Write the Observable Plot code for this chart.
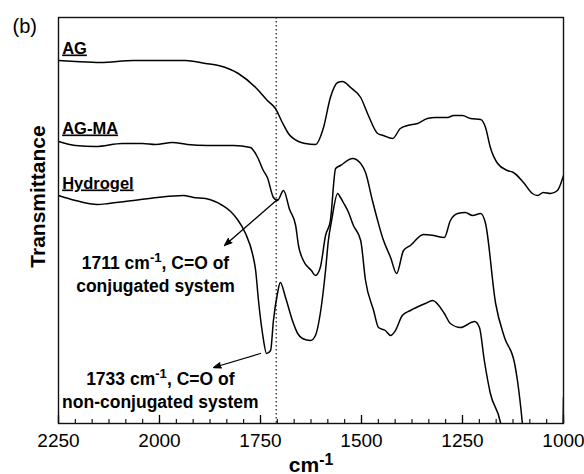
<!DOCTYPE html>
<html><head><meta charset="utf-8">
<script src="https://cdn.jsdelivr.net/npm/d3@7"></script>
<script src="https://cdn.jsdelivr.net/npm/@observablehq/plot@0.6"></script>
<style>
body{margin:0;background:#fff;}
#chart{position:relative;width:584px;height:474px;}
</style>
</head><body><div id="chart"></div>
<script>
// ---- data (wavenumber in cm-1, transmittance in arbitrary offset units) ----
const agWn = [2250, 2208, 2146, 2064, 1998, 1936, 1886, 1854, 1805, 1762, 1733, 1713, 1696, 1681, 1656, 1639, 1614, 1594, 1577, 1559, 1547, 1527, 1502, 1483, 1460, 1446, 1423, 1404, 1386, 1361, 1337, 1317, 1287, 1272, 1250, 1230, 1205, 1193, 1181, 1163, 1139, 1124, 1099, 1077, 1064, 1050, 1032, 1015, 1000];
const agT  = [363, 362, 361, 363, 363, 363, 360, 358, 350, 336, 323, 315, 301, 290, 282, 280, 279, 296, 326, 341, 342, 336, 326, 308, 290, 288, 285, 295, 298, 300, 305, 306, 306, 308, 308, 305, 304, 296, 276, 260, 253, 251, 241, 230, 228, 231, 230, 233, 248];

const agmaWn = [2250, 2208, 2158, 2092, 2042, 2010, 1968, 1931, 1881, 1817, 1775, 1757, 1743, 1733, 1718, 1708, 1693, 1678, 1663, 1656, 1644, 1624, 1614, 1602, 1589, 1577, 1564, 1552, 1522, 1502, 1490, 1473, 1460, 1448, 1428, 1413, 1396, 1379, 1347, 1322, 1295, 1280, 1262, 1243, 1225, 1205, 1193, 1168, 1146, 1121, 1114, 1102, 1080, 1008, 1000];
const agmaT  = [282, 278, 277, 280, 280, 279, 281, 279, 278, 278, 276, 266, 253, 246, 226, 223, 233, 214, 198, 178, 163, 153, 148, 156, 188, 203, 255, 258, 265, 260, 251, 223, 203, 186, 166, 150, 173, 178, 189, 188, 186, 203, 210, 211, 208, 210, 200, 120, 86, 60, 43, 1, -120, -150, 26];

const hydWn = [2250, 2208, 2153, 2126, 2064, 2005, 1941, 1916, 1886, 1844, 1824, 1807, 1787, 1770, 1762, 1755, 1745, 1735, 1725, 1718, 1708, 1701, 1688, 1671, 1658, 1646, 1626, 1614, 1602, 1589, 1582, 1574, 1559, 1552, 1545, 1532, 1520, 1502, 1490, 1470, 1458, 1441, 1428, 1416, 1399, 1379, 1342, 1324, 1295, 1280, 1255, 1220, 1208, 1196, 1181, 1156, 1140];
const hydT  = [228, 223, 219, 220, 223, 226, 228, 226, 225, 218, 212, 204, 190, 170, 153, 123, 90, 70, 73, 103, 130, 141, 126, 103, 90, 85, 83, 88, 110, 153, 183, 203, 230, 226, 221, 211, 198, 183, 143, 113, 96, 93, 88, 93, 108, 113, 120, 123, 110, 100, 96, 102, 96, 63, 30, 1, -40];

const seriesNames = ["AG", "AG-MA", "Hydrogel"];
const labelWn = [2241, 2241, 2241];
const labelT  = [370, 290, 235];

const majorTicks = [2250, 2000, 1750, 1500, 1250, 1000];
const minorTicks = d3.range(0, 31).map(i => 1000 + i * 250 / 6);
const markerWn = [1711];

const noteText = ["1711 cm⁻¹, C=O of\nconjugated system", "1733 cm⁻¹, C=O of\nnon-conjugated system"];
const noteWn = [2010, 1998];
const noteT  = [150, 34];

const arrowFromWn = [1708, 1750];
const arrowFromT  = [224, 70];
const arrowToWn   = [1839, 1866];
const arrowToT    = [178, 56];

// ---- tables built from arrays ----
const toRows = (wn, t, name) => wn.map((w, i) => ({wn: w, t: t[i], name}));
const curves = [toRows(agWn, agT, "AG"), toRows(agmaWn, agmaT, "AG-MA"), toRows(hydWn, hydT, "Hydrogel")];
const labels = seriesNames.map((n, i) => ({name: n, wn: labelWn[i], t: labelT[i]}));
const notes = noteText.map((s, i) => ({text: s, wn: noteWn[i], t: noteT[i]}));
const arrows = arrowFromWn.map((w, i) => ({x1: w, y1: arrowFromT[i], x2: arrowToWn[i], y2: arrowToT[i]}));

const font = "'Liberation Sans', Arial, Helvetica, sans-serif";

const chart = Plot.plot({
  width: 584, height: 474,
  marginLeft: 58, marginRight: 21, marginTop: 17, marginBottom: 51,
  x: {domain: [2250, 1000]},
  y: {domain: [0, 406], axis: null},
  style: {fontFamily: font, fontSize: "19px", color: "#000", background: "#fff", overflow: "visible"},
  marks: [
    Plot.ruleX(markerWn, {stroke: "#333", strokeWidth: 1.4, strokeDasharray: "1.4,2.6"}),
    ...curves.map(c => Plot.line(c, {x: "wn", y: "t", stroke: "#000", strokeWidth: 1.5, curve: "monotone-x", clip: true})),
    Plot.ruleX(minorTicks, {stroke: "#000", strokeWidth: 1.1, insetTop: 402}),
    Plot.ruleX(majorTicks, {stroke: "#000", strokeWidth: 1.3, insetTop: 398}),
    Plot.axisX({ticks: majorTicks, tickSize: 0, tickPadding: 10, fontSize: 19, label: null, tickFormat: d => String(d)}),
    Plot.frame({stroke: "#111", strokeWidth: 1.4}),
    Plot.arrow(arrows, {x1: "x1", y1: "y1", x2: "x2", y2: "y2", stroke: "#000", fill: "#000", strokeWidth: 1.3, headLength: 9, headAngle: 40, bend: 0}),
    Plot.text(labels, {x: "wn", y: "t", text: "name", textAnchor: "start", lineAnchor: "bottom", fontWeight: "bold", fontSize: 16.5}),
    Plot.text(notes, {x: "wn", y: "t", text: "text", lineAnchor: "middle", lineHeight: 1.3, fontWeight: "bold", fontSize: 17.5}),
    Plot.text(["Transmittance"], {frameAnchor: "left", rotate: -90, dx: -20, dy: -24, textAnchor: "middle", lineAnchor: "middle", fontWeight: "bold", fontSize: 21}),
    Plot.text(["cm⁻¹"], {frameAnchor: "bottom", dx: 0, dy: 48, textAnchor: "middle", lineAnchor: "bottom", fontWeight: "bold", fontSize: 21}),
    Plot.text(["(b)"], {frameAnchor: "top-left", dx: -46, dy: 15, textAnchor: "start", lineAnchor: "bottom", fontSize: 20})
  ]
});
document.getElementById("chart").appendChild(chart);

// underline series labels
d3.select(chart).selectAll("text").each(function() {
  if (seriesNames.includes(this.textContent)) this.setAttribute("text-decoration", "underline");
});
// superscripts for "⁻¹"
const walker = document.createTreeWalker(chart, NodeFilter.SHOW_TEXT);
const hits = [];
while (walker.nextNode()) if (walker.currentNode.nodeValue.includes("⁻¹")) hits.push(walker.currentNode);
const NS = "http://www.w3.org/2000/svg";
for (const node of hits) {
  const [before, after] = node.nodeValue.split("⁻¹");
  const parent = node.parentNode;
  const sup = document.createElementNS(NS, "tspan");
  sup.setAttribute("dy", "-7");
  sup.setAttribute("font-size", "75%");
  sup.textContent = "-1";
  parent.insertBefore(document.createTextNode(before), node);
  parent.insertBefore(sup, node);
  if (after) {
    const rest = document.createElementNS(NS, "tspan");
    rest.setAttribute("dy", "7");
    rest.textContent = after;
    parent.insertBefore(rest, node);
  }
  parent.removeChild(node);
}
</script>
</body></html>
